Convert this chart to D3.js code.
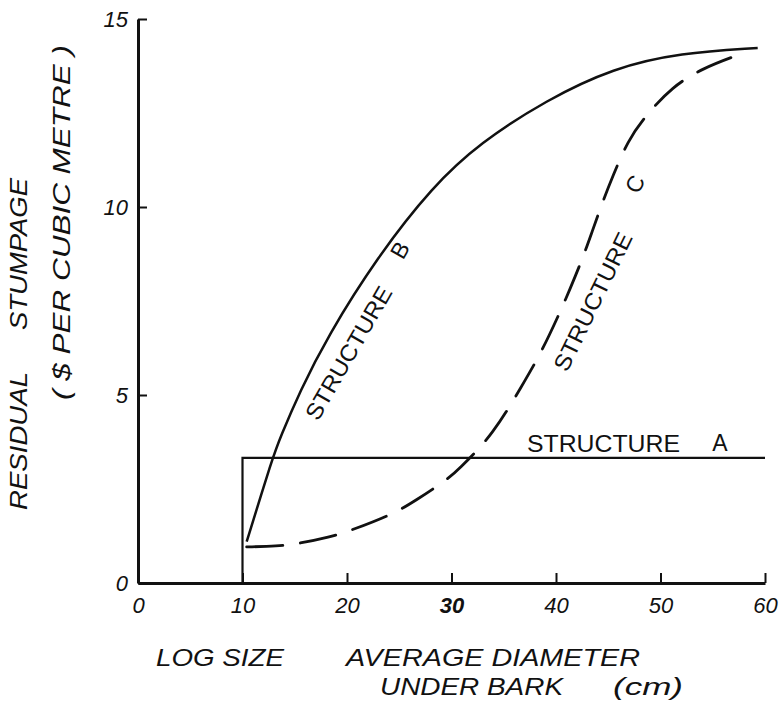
<!DOCTYPE html>
<html>
<head>
<meta charset="utf-8">
<script src="https://cdn.jsdelivr.net/npm/d3@7"></script>
<style>
  body { margin: 0; background: #fff; }
  text { font-family: "Liberation Sans", Arial, sans-serif; fill: #111; }
</style>
</head>
<body>
<div id="data-viz"></div>
<script>
// tick values
var xTicks = [0, 10, 20, 30, 40, 50, 60];
var yTicks = [0, 5, 10, 15];

// structure A : flat value from 10 cm up
var structA_x = [10, 10, 60];
var structA_y = [0, 3.33, 3.33];

// structure B (solid curve)
var structB_x = [10.4, 12.9, 13.6, 15.5, 18.1, 22.9, 28.2, 32.7, 39.1, 45.5, 51.9, 59.3];
var structB_y = [1.1, 3.35, 3.86, 5.1, 6.54, 8.67, 10.55, 11.7, 12.85, 13.7, 14.1, 14.23];

// structure C (dashed curve)
var structC_x = [10.4, 13.4, 15, 18.4, 20.5, 24.4, 26.5, 29.7, 30.8, 32.7, 33.9, 35.2, 37, 38.6, 40.3, 41.3, 42.6, 43.4, 44.5, 45.4, 46.9, 48.5, 51.1, 54.1, 57.4];
var structC_y = [0.96, 0.98, 1.03, 1.22, 1.41, 1.83, 2.18, 2.77, 3.06, 3.59, 4.0, 4.52, 5.37, 6.14, 7.15, 7.79, 8.67, 9.3, 10.16, 10.8, 11.78, 12.4, 13.2, 13.7, 14.04];

var W = 780, H = 702;

var svg = d3.select("#data-viz")
  .append("svg")
    .attr("width", W)
    .attr("height", H);

svg.append("rect").attr("width", W).attr("height", H).attr("fill", "#fff");

var x = d3.scaleLinear().domain([0, 60]).range([138, 765]);
var y = d3.scaleLinear().domain([0, 15]).range([583, 19]);

// X axis, ticks pointing up into the plot
var xAxis = svg.append("g")
  .attr("transform", "translate(0," + y(0) + ")")
  .call(d3.axisBottom(x).tickValues(xTicks).tickSizeInner(-10).tickSizeOuter(0).tickPadding(14));

// Y axis, ticks pointing right
var yAxis = svg.append("g")
  .attr("transform", "translate(" + x(0) + ",0)")
  .call(d3.axisLeft(y).tickValues(yTicks).tickSizeInner(-9).tickSizeOuter(0).tickPadding(10));

[xAxis, yAxis].forEach(function(g) {
  g.select(".domain").attr("stroke", "#111").attr("stroke-width", 3);
  g.selectAll(".tick line").attr("stroke", "#111").attr("stroke-width", 2);
  g.selectAll(".tick text")
    .attr("fill", "#111")
    .style("font-family", "'Liberation Sans', Arial, sans-serif")
    .style("font-size", "22px")
    .style("font-style", "italic");
});
xAxis.selectAll(".tick")
  .filter(function(d) { return d === 0; })
  .select("line").remove();
xAxis.selectAll(".tick text")
  .filter(function(d) { return d === 30; })
  .style("font-weight", "bold");

function toPts(xs, ys) {
  return xs.map(function(v, i) { return [v, ys[i]]; });
}

var smooth = d3.line()
  .x(function(d) { return x(d[0]); })
  .y(function(d) { return y(d[1]); })
  .curve(d3.curveBasis);

var straight = d3.line()
  .x(function(d) { return x(d[0]); })
  .y(function(d) { return y(d[1]); });

// structure A
svg.append("path")
  .datum(toPts(structA_x, structA_y))
  .attr("d", straight)
  .attr("fill", "none")
  .attr("stroke", "#111")
  .attr("stroke-width", 2.2);

// structure B
svg.append("path")
  .datum(toPts(structB_x, structB_y))
  .attr("d", smooth)
  .attr("fill", "none")
  .attr("stroke", "#111")
  .attr("stroke-width", 2.5);

// structure C
svg.append("path")
  .datum(toPts(structC_x, structC_y))
  .attr("d", smooth)
  .attr("fill", "none")
  .attr("stroke", "#111")
  .attr("stroke-width", 2.8)
  .attr("stroke-dasharray", "36,18")
  .attr("stroke-linecap", "round");

// labels on the curves
function label(txt, px, py, angle, len, anchor) {
  var t = svg.append("text")
    .attr("transform", "translate(" + px + "," + py + ") rotate(" + angle + ")")
    .style("font-size", "23px")
    .text(txt);
  if (len) t.attr("textLength", len).attr("lengthAdjust", "spacingAndGlyphs");
  if (anchor) t.attr("text-anchor", anchor).attr("dominant-baseline", "central");
  return t;
}
label("STRUCTURE", 527, 452, 0, 153);
label("A", 720, 443, 0, null, "middle");
label("STRUCTURE", 318, 422, -60, 150);
label("B", 400, 250, -60, null, "middle");
label("STRUCTURE", 567, 373, -64, 151);
label("C", 635, 184, -64, null, "middle");

// y axis title
function ytitle(txt, bx, y0, len) {
  svg.append("text")
    .attr("transform", "translate(" + bx + "," + y0 + ") rotate(-90)")
    .attr("textLength", len)
    .attr("lengthAdjust", "spacingAndGlyphs")
    .style("font-size", "24px")
    .style("font-style", "italic")
    .text(txt);
}
ytitle("RESIDUAL", 27, 510, 138);
ytitle("STUMPAGE", 27, 330, 152);
ytitle("( $ PER CUBIC METRE )", 70, 400, 355);

// x axis title
function xtitle(txt, x0, by, len) {
  svg.append("text")
    .attr("x", x0).attr("y", by)
    .attr("textLength", len)
    .attr("lengthAdjust", "spacingAndGlyphs")
    .style("font-size", "24px")
    .style("font-style", "italic")
    .text(txt);
}
xtitle("LOG SIZE", 156, 666, 128);
xtitle("AVERAGE DIAMETER", 346, 666, 294);
xtitle("UNDER BARK", 380, 695, 183);
xtitle("(cm)", 613, 695, 70);
</script>
</body>
</html>
